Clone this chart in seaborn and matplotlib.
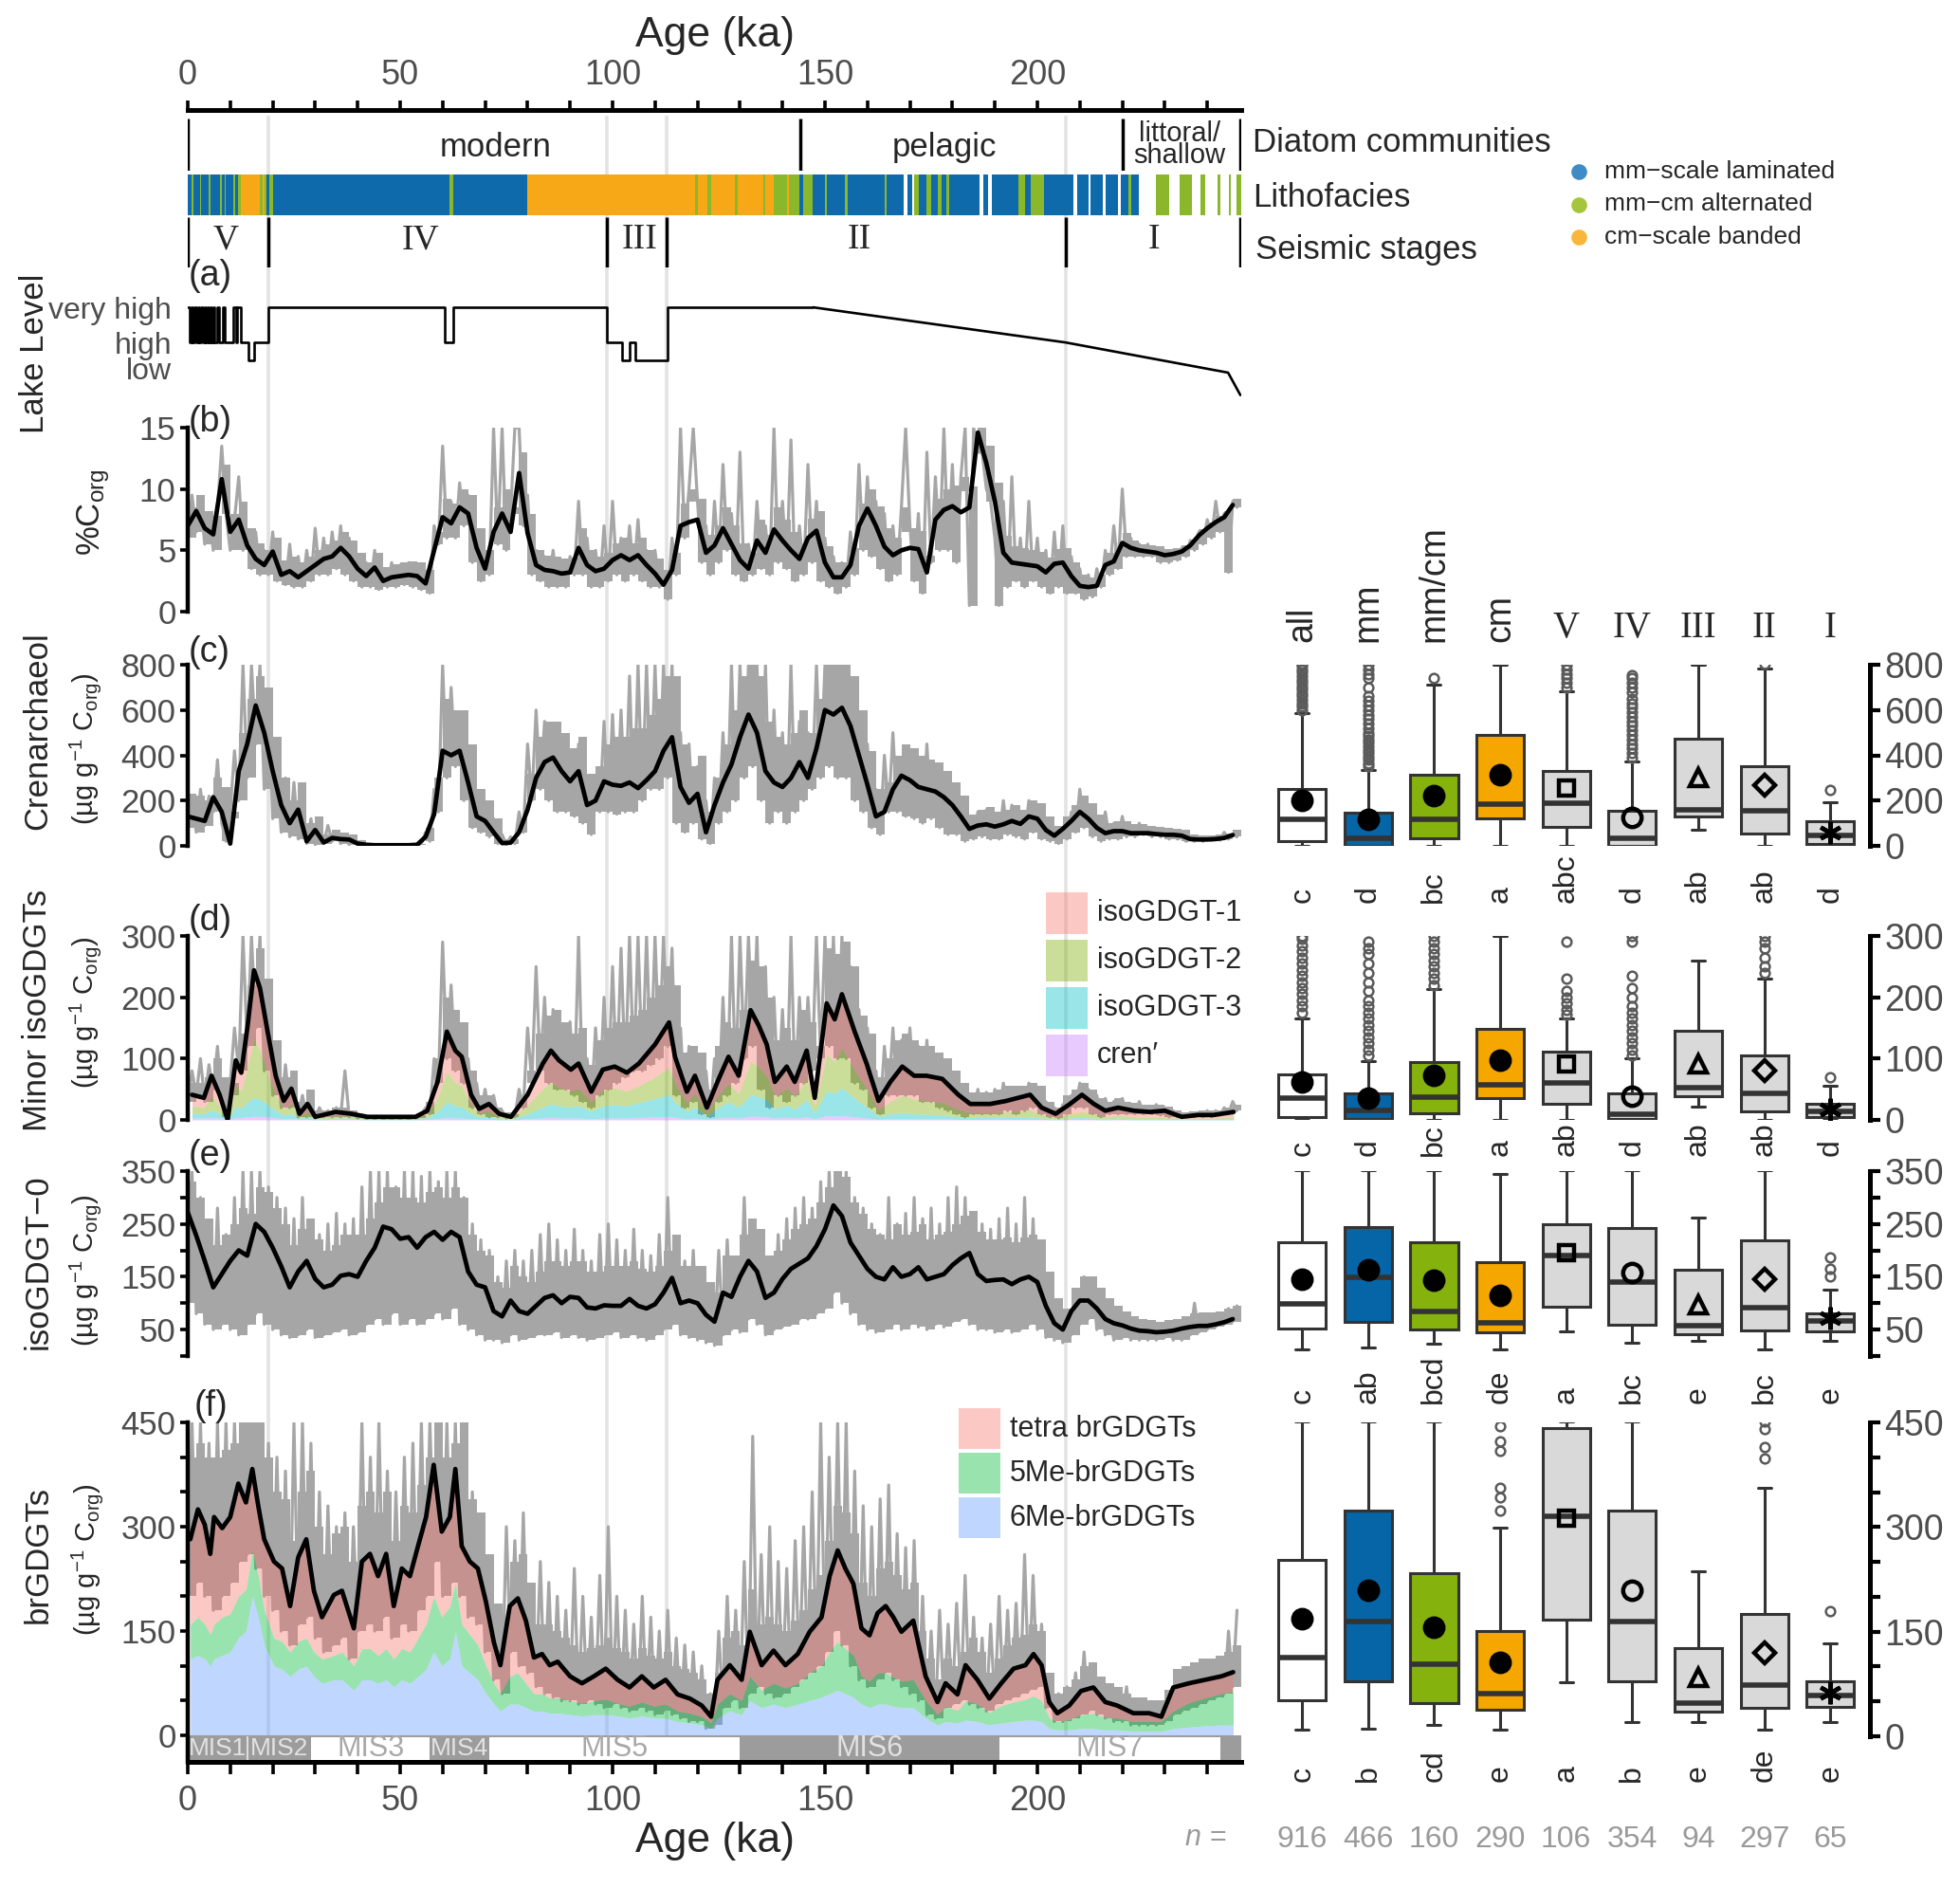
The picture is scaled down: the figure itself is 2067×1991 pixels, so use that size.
import numpy as np
import pandas as pd
import matplotlib
matplotlib.use("Agg")
import matplotlib.pyplot as plt
import matplotlib.transforms as mtransforms
from matplotlib.patches import Rectangle
import seaborn as sns

# ============================ DATA ============================
XMAX = 248.0

# (a) lake level: 1.5 = low, 2 = high, 3 = very high
lake_step_age = [0, 0.4, 0.8, 1.2, 1.6, 2.0, 2.4, 2.7, 3.2, 3.5, 4.0, 4.3, 4.6, 4.9, 5.3, 5.6, 6.0, 6.3,
                 7.0, 7.4, 8.2, 8.6, 10.8, 11.3, 11.6, 12.4, 14.3, 15.6, 18.9, 60.6, 62.6, 98.7, 102.2,
                 104.1, 105.3, 112.9, 147.2]
lake_step_level = [3, 2, 3, 2, 3, 2, 3, 2, 3, 2, 3, 2, 3, 2, 3, 2, 3, 2, 3, 2, 3, 2, 3, 2, 3, 2,
                   1.5, 2, 3, 2, 3, 2, 1.5, 2, 1.5, 3, 3]
lake_ramp_age = [147.2, 206.6, 244.9, 247.8]
lake_ramp_level = [3, 2, 1.14, 0.5]
lake_tick_pos = [3, 2, 1.25]
lake_tick_lab = ["very high", "high", "low"]

# header rows
diatom_bounds = [0, 144.2, 220.0, 247.7]
diatom_labels = ["modern", "pelagic", "littoral/\nshallow"]
diatom_label_x = [72.4, 178.0, 233.5]
seis_bounds = [0, 18.9, 98.7, 112.7, 206.8, 247.7]
seis_labels = ["V", "IV", "III", "II", "I"]
seis_label_x = [9.0, 54.8, 106.3, 158.1, 227.5]

litho_start = [0, 1.0, 1.3, 2.8, 3.2, 5.0, 5.4, 7.6, 8.0, 8.6, 8.9, 10.8, 11.2, 11.8, 12.5, 17.0, 17.6,
               18.0, 18.6, 19.2, 20.2, 61.5, 62.4, 80.0, 119.4, 120.1, 122.4, 123.2, 128.8, 129.4, 135.4,
               136.0, 138.0, 141.0, 141.6, 144.0, 144.8, 147.0, 150.0, 150.5, 154.8, 155.4, 164.0, 164.5,
               169.5, 171.0, 172.0, 174.0, 175.0, 176.5, 177.5, 178.5, 179.3, 187.2, 189.2, 195.5, 197.0,
               198.5, 201.5, 209.3, 212.6, 216.0, 219.6, 221.5, 222.2, 228.0, 233.5, 238.5, 242.5, 245.0,
               246.8]
litho_end = [1.0, 1.3, 2.8, 3.2, 5.0, 5.4, 7.6, 8.0, 8.6, 8.9, 10.8, 11.2, 11.8, 12.5, 17.0, 17.6, 18.0,
             18.6, 19.2, 20.2, 61.5, 62.4, 80.0, 119.4, 120.1, 122.4, 123.2, 128.8, 129.4, 135.4, 136.0,
             138.0, 141.0, 141.6, 144.0, 144.8, 147.0, 150.0, 150.5, 154.8, 155.4, 164.0, 164.5, 168.5,
             170.5, 172.0, 174.0, 175.0, 176.5, 177.5, 178.5, 179.3, 186.5, 188.5, 195.5, 197.0, 198.5,
             201.5, 208.5, 212.0, 215.5, 219.0, 221.5, 222.2, 223.8, 231.0, 236.5, 239.5, 243.2, 245.5,
             248.0]
litho_type = ['mm', 'mc', 'mm', 'mc', 'mm', 'mc', 'mm', 'mc', 'mm', 'mc', 'mm', 'mc', 'mm', 'mc', 'cm',
              'mc', 'cm', 'mc', 'mm', 'mc', 'mm', 'mc', 'mm', 'cm', 'mc', 'cm', 'mc', 'cm', 'mc', 'cm',
              'mc', 'cm', 'mc', 'cm', 'mc', 'mm', 'mc', 'mm', 'mc', 'mm', 'mc', 'mm', 'mc', 'mm', 'mm',
              'mc', 'mm', 'mc', 'mm', 'mc', 'mm', 'mc', 'mm', 'mm', 'mm', 'mc', 'mm', 'mc', 'mm', 'mm',
              'mm', 'mm', 'mm', 'mc', 'mm', 'mc', 'mc', 'mc', 'mc', 'mc', 'mc']
litho_names = ["mm\u2212scale laminated", "mm\u2212cm alternated", "cm\u2212scale banded"]

# MIS bar
mis_start = [0, 14, 29, 57, 71, 130, 191, 243]
mis_end = [14, 29, 57, 71, 130, 191, 243, 248]
mis_label = ["MIS1", "MIS2", "MIS3", "MIS4", "MIS5", "MIS6", "MIS7", ""]
mis_glacial = [True, True, False, True, False, True, False, True]

# 1-ka raw (grey) series, 0..247 ka
gray_age = np.arange(0, 248)
b_gray = [6.0, 9.5, 6.5, 9.0, 5.5, 8.0, 5.0, 8.5, 13.5, 8.0,
          5.0, 7.5, 11.0, 5.0, 6.5, 3.5, 6.5, 3.0, 5.0, 3.0,
          6.5, 2.5, 4.0, 2.2, 5.5, 2.0, 4.5, 2.0, 5.0, 2.5,
          6.8, 3.0, 6.0, 3.0, 6.5, 3.5, 7.0, 3.0, 6.0, 2.5,
          4.5, 2.0, 4.0, 2.0, 5.0, 1.8, 3.5, 2.0, 4.0, 2.0,
          3.8, 2.2, 4.0, 2.0, 3.5, 1.8, 3.0, 1.5, 7.0, 5.5,
          13.5, 6.0, 9.0, 6.0, 10.5, 7.0, 9.5, 4.0, 6.0, 2.5,
          4.5, 3.0, 15.0, 5.5, 15.0, 5.0, 8.0, 15.0, 15.0, 7.0,
          9.5, 3.0, 5.0, 2.5, 4.5, 2.0, 5.0, 2.0, 4.0, 2.0,
          4.5, 3.0, 9.0, 3.0, 6.0, 2.0, 5.0, 2.0, 7.0, 2.5,
          9.0, 3.0, 6.0, 2.5, 7.0, 3.0, 7.5, 2.5, 5.0, 2.0,
          5.0, 2.0, 3.0, 1.0, 6.0, 3.0, 15.0, 6.0, 10.0, 15.0,
          9.0, 4.0, 7.0, 3.0, 9.0, 4.0, 12.0, 5.0, 8.0, 3.0,
          13.0, 2.5, 5.5, 3.0, 9.0, 3.5, 7.0, 3.0, 15.0, 4.0,
          9.0, 3.5, 14.0, 2.5, 7.0, 3.0, 12.0, 4.0, 9.0, 2.5,
          6.0, 2.0, 4.5, 1.5, 4.0, 2.0, 6.5, 3.0, 12.0, 5.0,
          11.0, 4.5, 9.0, 3.5, 8.0, 2.5, 7.0, 3.0, 8.5, 15.0,
          7.0, 2.5, 8.0, 1.5, 13.0, 4.0, 11.0, 5.0, 15.0, 5.0,
          12.0, 4.0, 11.0, 15.0, 0.5, 15.0, 13.0, 13.0, 10.0, 9.0,
          6.0, 0.5, 9.0, 2.0, 11.0, 2.5, 6.0, 2.0, 9.0, 2.5,
          6.0, 2.0, 5.0, 1.5, 6.5, 2.0, 7.0, 1.5, 4.5, 1.5,
          3.5, 1.0, 3.0, 1.2, 3.5, 2.0, 5.0, 3.0, 7.0, 3.5,
          10.0, 4.5, 6.0, 4.5, 5.5, 4.5, 5.5, 4.5, 5.0, 4.0,
          5.0, 4.0, 5.0, 4.2, 5.2, 4.5, 5.8, 5.0, 6.5, 5.5,
          7.5, 6.0, 9.0, 6.5, 8.0, 3.2, 9.0, 8.5]
c_gray = [80, 200, 60, 250, 90, 220, 150, 380, 100, 20,
          150, 420, 200, 800, 300, 800, 450, 800, 250, 650,
          120, 350, 60, 300, 40, 280, 30, 150, 10, 120,
          5, 80, 10, 90, 20, 60, 10, 40, 5, 30,
          5, 20, 5, 0, 5, 0, 3, 0, 3, 0,
          2, 0, 2, 0, 5, 10, 60, 20, 250, 150,
          800, 300, 700, 350, 550, 200, 350, 80, 200, 60,
          180, 40, 120, 10, 50, 5, 40, 10, 150, 60,
          450, 200, 600, 250, 550, 200, 480, 150, 420, 150,
          380, 130, 450, 100, 200, 50, 300, 150, 550, 150,
          580, 140, 600, 150, 750, 150, 800, 200, 800, 250,
          800, 250, 800, 300, 800, 100, 500, 60, 450, 100,
          350, 30, 200, 10, 300, 100, 500, 150, 800, 200,
          800, 300, 800, 350, 800, 200, 800, 100, 600, 150,
          500, 100, 800, 150, 550, 200, 500, 250, 800, 300,
          800, 350, 800, 300, 800, 300, 700, 200, 500, 150,
          450, 80, 250, 50, 400, 150, 500, 150, 380, 130,
          420, 120, 350, 100, 450, 120, 300, 80, 250, 50,
          200, 50, 180, 20, 120, 30, 150, 40, 160, 30,
          120, 30, 200, 50, 180, 40, 150, 30, 200, 60,
          130, 30, 100, 20, 60, 10, 80, 30, 150, 60,
          250, 80, 180, 40, 120, 20, 150, 30, 100, 30,
          130, 40, 80, 40, 100, 50, 70, 40, 70, 40,
          60, 30, 50, 30, 40, 20, 30, 20, 35, 20,
          35, 25, 40, 25, 60, 30, 50, 40]
d_gray = [30, 80, 40, 100, 30, 90, 50, 120, 30, 5,
          60, 150, 80, 300, 120, 300, 150, 300, 80, 200,
          40, 120, 20, 90, 20, 60, 5, 40, 5, 30,
          3, 20, 5, 15, 5, 20, 5, 80, 5, 10,
          3, 8, 2, 5, 2, 5, 2, 4, 2, 4,
          2, 4, 2, 4, 3, 8, 20, 10, 100, 60,
          290, 100, 220, 80, 150, 60, 100, 20, 60, 10,
          50, 5, 40, 5, 15, 3, 10, 5, 50, 20,
          150, 60, 250, 80, 200, 60, 180, 50, 150, 50,
          160, 40, 300, 30, 100, 20, 150, 40, 200, 50,
          250, 60, 280, 70, 300, 80, 300, 80, 300, 90,
          300, 100, 300, 120, 280, 40, 150, 20, 120, 30,
          100, 10, 80, 5, 100, 30, 200, 40, 300, 60,
          300, 100, 300, 120, 300, 50, 250, 20, 200, 40,
          180, 30, 300, 40, 200, 60, 200, 80, 300, 100,
          300, 120, 300, 100, 300, 100, 250, 60, 180, 50,
          150, 20, 80, 10, 120, 40, 150, 40, 130, 40,
          150, 40, 120, 30, 130, 30, 100, 20, 80, 15,
          60, 10, 50, 5, 40, 10, 50, 10, 45, 10,
          50, 10, 60, 15, 50, 10, 45, 15, 60, 20,
          40, 10, 30, 5, 20, 3, 25, 10, 40, 20,
          60, 20, 50, 10, 40, 5, 35, 10, 30, 10,
          35, 10, 25, 10, 30, 10, 20, 10, 25, 8,
          20, 5, 15, 5, 10, 5, 12, 5, 12, 5,
          15, 5, 15, 8, 20, 10, 30, 15]
e_gray = [100, 350, 80, 300, 60, 250, 50, 280, 60, 230,
          50, 300, 40, 350, 60, 350, 80, 350, 60, 320,
          50, 300, 40, 280, 35, 260, 40, 300, 50, 250,
          35, 230, 40, 250, 45, 270, 50, 250, 40, 260,
          45, 320, 60, 350, 70, 350, 60, 350, 80, 320,
          60, 350, 70, 350, 60, 340, 70, 350, 80, 330,
          70, 350, 90, 350, 60, 300, 50, 250, 40, 220,
          30, 200, 30, 150, 25, 180, 40, 200, 30, 180,
          35, 200, 40, 230, 40, 250, 45, 220, 35, 200,
          40, 240, 35, 200, 30, 180, 35, 230, 40, 250,
          45, 220, 35, 200, 40, 240, 35, 200, 30, 190,
          40, 230, 50, 300, 60, 200, 40, 180, 35, 200,
          30, 160, 25, 130, 20, 200, 40, 220, 50, 180,
          45, 300, 70, 250, 60, 200, 40, 180, 50, 230,
          55, 260, 60, 280, 70, 300, 70, 280, 80, 330,
          90, 350, 120, 350, 100, 350, 80, 300, 60, 280,
          50, 250, 45, 230, 50, 300, 60, 250, 50, 270,
          60, 300, 55, 260, 50, 280, 60, 250, 55, 300,
          65, 320, 70, 300, 60, 260, 50, 250, 50, 240,
          45, 260, 50, 280, 45, 250, 50, 300, 60, 260,
          50, 180, 35, 120, 30, 90, 25, 80, 40, 120,
          60, 150, 70, 140, 50, 110, 40, 80, 30, 70,
          35, 65, 30, 60, 30, 55, 30, 50, 30, 50,
          35, 55, 30, 60, 30, 70, 40, 100, 45, 80,
          50, 75, 55, 80, 60, 90, 65, 95]
f_gray = [200, 450, 220, 450, 200, 420, 180, 450, 200, 450,
          220, 450, 250, 450, 260, 450, 240, 450, 200, 420,
          180, 400, 150, 380, 130, 450, 160, 450, 170, 420,
          140, 350, 120, 330, 130, 300, 140, 320, 110, 300,
          150, 450, 160, 400, 150, 450, 170, 380, 140, 350,
          160, 400, 150, 420, 180, 450, 200, 450, 250, 450,
          200, 450, 220, 450, 200, 450, 170, 350, 160, 300,
          120, 250, 80, 180, 60, 300, 120, 280, 100, 320,
          90, 200, 70, 250, 60, 220, 55, 200, 50, 180,
          50, 240, 45, 200, 50, 170, 45, 230, 40, 300,
          45, 200, 40, 180, 35, 160, 40, 200, 35, 170,
          30, 150, 35, 180, 30, 140, 25, 130, 20, 120,
          20, 100, 10, 60, 15, 150, 40, 200, 50, 180,
          40, 250, 60, 430, 70, 260, 60, 300, 55, 250,
          60, 240, 70, 280, 80, 300, 90, 350, 100, 450,
          120, 400, 150, 450, 130, 450, 100, 380, 80, 330,
          70, 300, 80, 340, 90, 360, 80, 290, 70, 270,
          60, 280, 50, 200, 30, 150, 25, 180, 40, 160,
          45, 190, 50, 230, 45, 170, 40, 140, 35, 160,
          45, 200, 50, 180, 55, 190, 60, 260, 65, 230,
          70, 160, 40, 80, 20, 60, 20, 70, 25, 90,
          30, 120, 35, 100, 30, 80, 25, 70, 20, 60,
          20, 70, 15, 50, 15, 45, 15, 40, 15, 40,
          20, 60, 30, 80, 35, 90, 40, 90, 45, 100,
          50, 90, 55, 100, 60, 150, 70, 180]

# smoothed (black) series and upper edge of the dense raw-data cloud, 2-ka steps 0..246 ka
smooth_age = np.arange(0, 247, 2)
b_black = [7.0, 8.2, 6.8, 6.3, 10.8, 6.5, 7.5, 5.4, 4.3, 3.8,
           4.9, 3.0, 3.3, 2.8, 3.3, 3.8, 4.3, 4.5, 5.2, 4.5,
           3.5, 2.9, 3.6, 2.5, 2.8, 2.9, 3.0, 2.9, 2.3, 5.0,
           7.7, 7.2, 8.5, 8.0, 5.2, 3.5, 6.5, 8.0, 6.5, 11.3,
           6.4, 3.8, 3.4, 3.3, 3.1, 3.2, 5.2, 3.8, 3.3, 3.5,
           4.2, 4.6, 4.2, 4.6, 3.8, 3.1, 2.2, 3.4, 7.0, 7.3,
           7.5, 4.8, 5.4, 6.8, 5.5, 4.2, 3.5, 5.8, 4.8, 6.7,
           5.8, 5.0, 4.3, 6.0, 6.6, 4.0, 2.8, 2.8, 3.8, 7.0,
           8.4, 7.0, 5.3, 4.6, 5.0, 5.2, 5.1, 3.2, 7.5, 8.3,
           8.6, 8.1, 8.5, 14.6, 12.1, 9.0, 4.8, 4.0, 3.9, 3.8,
           3.7, 3.2, 3.9, 4.0, 2.9, 2.1, 2.0, 2.1, 3.8, 4.1,
           5.6, 5.2, 5.0, 4.9, 4.8, 4.6, 4.7, 4.9, 5.4, 6.2,
           6.8, 7.3, 7.7, 8.7]
b_core = [8.5, 9.5, 8.2, 7.8, 12.0, 8.0, 9.0, 6.8, 5.6, 5.0,
          6.0, 4.2, 4.5, 4.0, 4.5, 5.0, 5.5, 5.8, 6.5, 5.8,
          4.8, 4.0, 4.8, 3.6, 3.9, 4.0, 4.1, 4.0, 3.4, 6.5,
          9.2, 8.8, 10.0, 9.5, 6.8, 5.0, 8.5, 10.0, 8.5, 13.0,
          8.0, 5.0, 4.6, 4.5, 4.3, 4.4, 6.8, 5.0, 4.5, 4.8,
          5.6, 6.0, 5.6, 6.0, 5.0, 4.3, 3.4, 4.8, 8.8, 9.0,
          9.2, 6.3, 7.0, 8.5, 7.0, 5.6, 4.8, 7.5, 6.3, 8.5,
          7.5, 6.5, 5.6, 7.6, 8.2, 5.3, 4.0, 4.0, 5.2, 8.8,
          10.0, 8.6, 6.8, 6.0, 6.5, 6.8, 6.6, 4.6, 9.2, 10.0,
          10.3, 9.8, 10.2, 15.0, 13.5, 10.5, 6.2, 5.3, 5.2, 5.0,
          4.9, 4.4, 5.1, 5.2, 4.0, 3.0, 2.8, 3.0, 4.8, 5.2,
          6.4, 5.8, 5.5, 5.4, 5.3, 5.1, 5.2, 5.4, 5.9, 6.7,
          7.3, 7.8, 8.2, 9.2]
c_black = [130, 120, 110, 215, 150, 10, 330, 450, 620, 500,
           330, 180, 100, 160, 20, 70, 15, 35, 30, 28,
           10, 5, 3, 3, 3, 3, 3, 5, 40, 140,
           420, 400, 420, 280, 130, 110, 60, 12, 14, 60,
           160, 300, 370, 390, 330, 285, 330, 180, 200, 285,
           270, 265, 280, 255, 290, 330, 420, 480, 260, 190,
           230, 60, 180, 280, 360, 480, 580, 500, 330, 280,
           260, 300, 370, 300, 430, 600, 580, 610, 530, 400,
           270, 130, 150, 250, 310, 290, 260, 250, 240, 215,
           180, 130, 75, 90, 95, 85, 95, 110, 97, 130,
           120, 70, 45, 75, 110, 150, 120, 80, 56, 65,
           65, 56, 56, 56, 52, 49, 49, 45, 30, 28,
           28, 30, 35, 48]
c_core = [230, 220, 200, 300, 260, 120, 500, 650, 750, 700,
          480, 300, 200, 280, 100, 130, 50, 70, 60, 50,
          25, 10, 6, 6, 6, 6, 6, 10, 80, 300,
          650, 600, 600, 450, 250, 200, 120, 30, 30, 120,
          320, 480, 550, 550, 500, 430, 480, 320, 350, 450,
          480, 480, 520, 520, 580, 650, 750, 750, 450, 350,
          400, 150, 300, 450, 600, 750, 800, 750, 550, 480,
          450, 500, 600, 500, 650, 800, 800, 800, 750, 600,
          420, 250, 280, 400, 450, 430, 400, 380, 370, 330,
          280, 220, 140, 160, 170, 150, 160, 180, 160, 200,
          190, 130, 90, 130, 180, 220, 190, 140, 100, 110,
          110, 95, 95, 90, 85, 80, 75, 70, 50, 45,
          45, 50, 55, 70]
d_core = [60, 60, 70, 100, 70, 40, 140, 220, 280, 230,
          130, 70, 80, 30, 50, 15, 15, 20, 20, 15,
          8, 6, 6, 6, 6, 6, 6, 8, 30, 100,
          200, 180, 160, 80, 40, 40, 20, 12, 10, 40,
          80, 140, 170, 180, 160, 140, 150, 90, 130, 150,
          160, 160, 170, 180, 200, 220, 250, 220, 110, 120,
          110, 50, 120, 160, 150, 180, 260, 250, 200, 130,
          150, 130, 180, 160, 120, 280, 270, 290, 250, 170,
          140, 70, 100, 130, 140, 130, 120, 120, 110, 100,
          80, 60, 45, 45, 45, 50, 55, 55, 55, 60,
          55, 30, 20, 40, 50, 60, 50, 35, 30, 35,
          30, 28, 25, 25, 25, 22, 15, 12, 14, 15,
          15, 16, 20, 25]
e_black = [272, 228, 180, 130, 155, 180, 200, 190, 250, 235,
           205, 170, 130, 160, 180, 146, 130, 135, 152, 155,
           150, 180, 205, 245, 240, 222, 225, 205, 225, 235,
           220, 235, 225, 160, 135, 130, 85, 75, 105, 85,
           80, 95, 110, 115, 100, 112, 110, 92, 90, 96,
           95, 95, 108, 95, 90, 98, 120, 148, 100, 105,
           100, 78, 65, 120, 112, 150, 180, 160, 110, 120,
           146, 165, 175, 185, 208, 240, 285, 265, 215, 190,
           165, 150, 145, 168, 150, 155, 168, 145, 150, 155,
           172, 185, 195, 155, 142, 144, 145, 136, 145, 150,
           140, 95, 62, 50, 85, 105, 105, 90, 70, 62,
           58, 52, 48, 47, 45, 46, 48, 52, 55, 57,
           57, 60, 64, 70]
e_core = [330, 300, 260, 210, 230, 250, 280, 270, 320, 310,
          280, 250, 210, 240, 260, 220, 200, 210, 230, 230,
          230, 260, 290, 320, 320, 300, 300, 290, 310, 320,
          300, 320, 300, 230, 200, 190, 140, 130, 170, 150,
          140, 160, 180, 180, 170, 180, 180, 160, 160, 170,
          170, 170, 180, 165, 160, 170, 200, 230, 170, 170,
          170, 140, 120, 190, 190, 230, 260, 240, 190, 200,
          220, 240, 250, 260, 290, 320, 350, 340, 290, 270,
          240, 230, 220, 250, 230, 235, 250, 220, 230, 235,
          250, 265, 275, 235, 220, 220, 225, 215, 225, 230,
          220, 160, 110, 90, 130, 150, 150, 130, 110, 95,
          85, 75, 70, 68, 65, 68, 70, 75, 80, 82,
          82, 85, 90, 95]
f_core = [400, 420, 400, 400, 410, 420, 450, 450, 450, 400,
          350, 340, 280, 350, 380, 300, 260, 290, 300, 250,
          330, 350, 320, 350, 280, 330, 320, 360, 400, 450,
          400, 420, 450, 340, 320, 260, 190, 150, 250, 260,
          220, 160, 160, 150, 140, 130, 120, 125, 130, 140,
          125, 120, 110, 125, 115, 110, 120, 100, 95, 90,
          80, 60, 90, 140, 150, 130, 210, 160, 170, 160,
          150, 165, 180, 210, 230, 280, 330, 320, 290, 220,
          200, 240, 250, 230, 210, 220, 150, 110, 80, 110,
          100, 120, 140, 120, 90, 110, 130, 140, 145, 160,
          150, 90, 60, 70, 80, 100, 105, 85, 75, 70,
          60, 55, 55, 50, 50, 65, 95, 100, 105, 110,
          110, 115, 120, 130]

# (d) minor isoGDGT components (smoothed, stacked)
d_age = [1, 3.8, 5.6, 7.5, 9.4, 11.3, 12.6, 14.1, 15.6, 17,
         18.8, 20.7, 22.6, 24.4, 26.3, 28.2, 30, 34.8, 38.5, 42.3,
         53.6, 56.4, 58.8, 61, 63, 64.5, 66.7, 68.6, 70.9, 73.3,
         76.1, 80, 83.6, 85.5, 87.4, 90.2, 92, 95, 97.7, 100.5,
         103.4, 106.2, 110, 113.3, 114.7, 117.5, 119.4, 122.2, 125, 127.3,
         129.7, 132.5, 134.4, 136.3, 138.2, 141, 142.9, 145.7, 147.6, 150.4,
         152.3, 154, 157, 159.8, 162.6, 165.4, 168.2, 171, 173.9, 177.6,
         181.4, 184.2, 188.9, 192.7, 195.5, 198.3, 201, 204.3, 207.7, 210.5,
         213.3, 216, 219, 222.7, 226.5, 230, 234, 237.8, 241.5, 246.2]
d_cren = [3, 3, 4, 3, 0, 4, 4, 5, 6, 6, 5, 3, 2, 2, 1, 1, 0, 1, 1, 0,
          0, 1, 2, 4, 3, 3, 2, 1, 1, 0, 0, 2, 3, 4, 3, 3, 3, 2, 3, 3,
          3, 4, 5, 6, 4, 2, 3, 1, 3, 4, 3, 6, 6, 5, 3, 4, 3, 5, 2, 7,
          6, 7, 5, 3, 1, 2, 2, 2, 2, 2, 1, 1, 1, 1, 1, 1, 1, 0, 1, 1,
          1, 0, 1, 0, 0, 0, 0, 0, 0, 0]
d_iso3 = [8, 7, 12, 8, 0, 18, 15, 25, 30, 28, 20, 12, 6, 8, 2, 4, 1, 2, 2, 1,
          1, 3, 12, 25, 20, 18, 8, 4, 5, 2, 1, 8, 18, 22, 20, 18, 20, 12, 20, 22,
          20, 24, 30, 35, 25, 12, 18, 5, 18, 25, 18, 35, 32, 28, 15, 20, 15, 28, 9, 40,
          38, 45, 30, 18, 5, 8, 10, 8, 7, 6, 4, 3, 3, 3, 3, 4, 2, 1, 2, 3,
          2, 1, 2, 1, 1, 1, 1, 1, 1, 1]
d_iso2 = [12, 10, 22, 12, 0, 35, 28, 60, 95, 80, 50, 25, 10, 16, 3, 8, 2, 4, 3, 2,
          2, 5, 22, 50, 38, 35, 14, 6, 9, 3, 2, 14, 30, 35, 30, 26, 28, 15, 26, 27,
          24, 28, 35, 45, 30, 14, 22, 6, 20, 30, 22, 55, 48, 38, 20, 28, 20, 35, 12, 60,
          52, 65, 45, 30, 10, 20, 28, 24, 22, 20, 12, 8, 8, 9, 10, 12, 6, 3, 7, 10,
          7, 4, 5, 4, 4, 4, 1, 2, 2, 4]
d_iso1 = [18, 16, 34, 18, 0, 40, 30, 64, 113, 101, 69, 32, 13, 25, 4, 13, 2, 6, 4, 2,
          2, 6, 26, 65, 52, 47, 17, 7, 11, 5, 2, 17, 41, 52, 44, 35, 41, 17, 33, 35,
          30, 36, 53, 73, 44, 18, 29, 8, 26, 44, 29, 83, 68, 52, 24, 35, 24, 45, 13, 83,
          68, 88, 64, 41, 15, 32, 47, 38, 41, 39, 24, 14, 14, 18, 22, 24, 11, 6, 16, 27,
          16, 10, 12, 10, 8, 10, 3, 5, 5, 8]
d_names = ["isoGDGT-1", "isoGDGT-2", "isoGDGT-3", "cren\u2032"]

# (f) brGDGT components (smoothed, stacked)
f_age = [0.6, 2.4, 4, 5.3, 6.2, 8.1, 10, 11.9, 13.7, 15.2,
         16.6, 18, 20.3, 22.2, 24.1, 26, 27.9, 29.7, 31.6, 34.4,
         36.3, 39.1, 41, 42.9, 44.8, 46.7, 48.5, 50.4, 52.3, 54.2,
         56.1, 57.9, 59.8, 61.7, 63, 64.5, 66.4, 68.3, 70.2, 72.1,
         73.6, 75.8, 77.7, 79.6, 81.5, 83.4, 85.2, 87.1, 90, 92.8,
         95.6, 98.4, 101.2, 104, 106.9, 109.7, 112.5, 115.3, 118.2, 121,
         123.2, 124.7, 127.6, 130.4, 132.3, 135.1, 137.9, 140.7, 143.6, 146.4,
         149.2, 151.1, 153, 154.8, 156.7, 158.6, 160.5, 162.4, 164.3, 166.1,
         168, 170.8, 173.7, 176.5, 178.4, 181.2, 183.1, 185.9, 188.7, 191.5,
         194.4, 197.2, 199.1, 201, 202.8, 204.7, 207.5, 210.3, 213.2, 216,
         218.8, 222.6, 226.3, 229.2, 232, 235.7, 239.5, 243.3, 246.1]
f_6me = [110, 115, 110, 100, 110, 115, 120, 140, 150, 200, 170, 130, 100, 95, 85, 95, 100, 85, 75, 80,
         80, 65, 80, 80, 75, 80, 70, 80, 75, 85, 95, 120, 100, 110, 150, 100, 90, 80, 60, 45,
         35, 45, 45, 40, 35, 35, 32, 32, 30, 28, 30, 30, 28, 25, 28, 25, 25, 20, 18, 15,
         10, 25, 35, 30, 50, 40, 45, 40, 45, 50, 55, 60, 65, 60, 55, 45, 40, 45, 45, 42,
         40, 40, 25, 15, 20, 18, 22, 20, 15, 18, 20, 22, 22, 20, 10, 8, 8, 10, 10, 8,
         8, 6, 6, 6, 10, 12, 14, 15, 15]
f_5me = [50, 55, 50, 45, 50, 55, 55, 60, 60, 66, 60, 50, 40, 40, 35, 40, 40, 35, 35, 35,
         40, 35, 45, 45, 40, 45, 40, 45, 45, 55, 65, 80, 70, 75, 70, 60, 55, 50, 40, 30,
         25, 40, 45, 35, 25, 25, 22, 22, 20, 18, 20, 22, 18, 17, 20, 17, 20, 15, 14, 12,
         8, 20, 25, 20, 35, 25, 30, 28, 30, 40, 45, 60, 70, 65, 60, 40, 38, 45, 45, 42,
         38, 40, 25, 15, 22, 18, 28, 25, 18, 25, 28, 30, 35, 30, 15, 12, 15, 20, 22, 18,
         17, 14, 14, 14, 25, 35, 40, 45, 48]
f_tetra = [122, 155, 143, 116, 154, 128, 139, 162, 125, 117, 100, 102, 110, 105, 66, 121, 142, 88, 60, 87,
           88, 54, 125, 136, 114, 136, 76, 115, 109, 132, 154, 189, 123, 129, 163, 112, 105, 110, 92, 58,
           41, 101, 107, 90, 52, 57, 47, 52, 35, 29, 35, 44, 34, 27, 37, 27, 35, 24, 21, 16,
           9, 35, 41, 30, 64, 36, 47, 33, 42, 59, 70, 109, 131, 115, 103, 69, 66, 86, 96, 86,
           71, 85, 35, 18, 33, 23, 51, 35, 20, 32, 48, 49, 60, 51, 23, 12, 20, 34, 37, 22,
           18, 12, 12, 7, 34, 28, 26, 25, 28]
f_names = ["tetra brGDGTs", "5Me-brGDGTs", "6Me-brGDGTs"]

# box-plot statistics (groups: all, mm, mm/cm, cm, V, IV, III, II, I)
groups = ["all", "mm", "mm/cm", "cm", "V", "IV", "III", "II", "I"]
group_n = [916, 466, 160, 290, 106, 354, 94, 297, 65]

c_med = [117, 35, 117, 185, 188, 32, 161, 156, 46]
c_q1 = [19, 0, 35, 121, 85, 0, 129, 55, 8]
c_q3 = [251, 145, 314, 492, 331, 155, 473, 350, 109]
c_lo = [0, 0, 0, 0, 0, 0, 71, 0, 0]
c_hi = [587, 337, 713, 800, 681, 374, 800, 784, 192]
c_mean = [200, 117, 224, 314, 255, 126, 300, 268, 58]
c_out = [[600, 615, 630, 645, 660, 675, 690, 705, 720, 735, 750, 765, 780, 795, 805],
         [350, 365, 380, 395, 410, 425, 440, 455, 470, 485, 500, 520, 540, 560, 580, 600, 620, 640, 660,
          700, 740, 760, 780, 800],
         [740], [], [700, 720, 740, 760, 780, 800],
         [390, 410, 430, 450, 470, 490, 510, 530, 550, 570, 590, 610, 630, 650, 680, 700, 720, 740, 755],
         [], [805], [248]]
c_sig = ["c", "d", "bc", "a", "abc", "d", "ab", "ab", "d"]

d_med = [35, 15, 37, 57, 60, 10, 53, 43, 14]
d_q1 = [5, 2, 11, 36, 26, 1, 39, 14, 4]
d_q3 = [74, 44, 94, 148, 111, 43, 146, 105, 26]
d_lo = [0, 0, 0, 0, 0, 0, 21, 0, 0]
d_hi = [166, 96, 214, 300, 166, 100, 260, 230, 56]
d_mean = [62, 35, 72, 98, 92, 38, 92, 80, 17]
d_out = [[175, 185, 195, 205, 215, 225, 235, 245, 255, 265, 275, 285, 295, 300],
         [105, 115, 125, 135, 145, 155, 165, 175, 185, 195, 210, 225, 240, 255, 270, 280, 290],
         [220, 230, 240, 250, 260, 270, 280, 290, 300], [],
         [172, 180, 190, 200, 210, 230, 290],
         [105, 115, 125, 135, 145, 155, 165, 175, 185, 200, 215, 235, 290, 300],
         [], [240, 250, 265, 280, 290, 300], [69]]
d_sig = ["c", "d", "bc", "a", "ab", "d", "ab", "ab", "d"]

e_med = [98, 149, 84, 63, 190, 140, 57, 91, 66]
e_q1 = [52, 64, 51, 44, 93, 60, 42, 48, 47]
e_q3 = [215, 244, 216, 178, 249, 242, 164, 219, 81]
e_lo = [12, 17, 24, 12, 47, 26, 28, 12, 28]
e_hi = [352, 352, 352, 344, 352, 352, 262, 352, 126]
e_mean = [146, 164, 143, 114, 196, 158, 97, 145, 71]
e_out = [[], [], [], [], [], [], [], [], [151, 166, 186]]
e_sig = ["c", "ab", "bcd", "de", "a", "bc", "e", "bc", "e"]

f_med = [113, 165, 103, 61, 315, 165, 48, 73, 59]
f_q1 = [52, 79, 48, 38, 167, 79, 35, 41, 42]
f_q3 = [253, 324, 234, 151, 442, 324, 127, 176, 79]
f_lo = [9, 11, 16, 9, 78, 20, 20, 9, 21]
f_hi = [452, 452, 452, 299, 452, 452, 236, 356, 133]
f_mean = [168, 209, 157, 106, 313, 209, 84, 119, 62]
f_out = [[], [], [], [324, 342, 356, 409, 423, 444], [], [], [], [398, 415, 441, 452], [179]]
f_sig = ["c", "b", "cd", "e", "a", "b", "e", "de", "e"]

# ============================ STYLE ============================
W, H = 2067, 1991
sns.set_theme(style="white")
SANS = ["Liberation Sans", "DejaVu Sans"]
SERIF = ["Liberation Serif", "DejaVu Serif"]
plt.rcParams["font.family"] = SANS
plt.rcParams["mathtext.fontset"] = "custom"
plt.rcParams["mathtext.rm"] = "Liberation Sans"
plt.rcParams["mathtext.it"] = "Liberation Sans:italic"
plt.rcParams["mathtext.bf"] = "Liberation Sans:bold"
plt.rcParams["axes.unicode_minus"] = False

TXT = "#4d4d4d"
GRAY = "#a6a6a6"
GUIDE = "#e3e3e3"
LITHO_COL = {"mm": "#0f6aac", "mc": "#8bb82a", "cm": "#f6a816"}
LEG_COL = ["#3f8bc6", "#a5c63c", "#f8b63a"]
D_COL = ["#F8766D", "#7CAE00", "#00BFC4", "#C77CFF"]   # iso1, iso2, iso3, cren'
F_COL = ["#F8766D", "#00BA38", "#619CFF"]              # tetra, 5Me, 6Me
BOX_COL = ["#ffffff", "#0565a6", "#86b20d", "#f5a700"] + ["#d9d9d9"] * 5
ALPHA = 0.4

fig = plt.figure(figsize=(W / 100, H / 100), dpi=100)
fig.patch.set_facecolor("white")


def rect(x0, y0, x1, y1):
    return [x0 / W, 1 - y1 / H, (x1 - x0) / W, (y1 - y0) / H]


LX0, LX1 = 198, 1309

# background guide lines (seismic stage boundaries)
bg = fig.add_axes(rect(LX0, 122, LX1, 1830))
bg.set_xlim(0, XMAX)
bg.set_ylim(0, 1)
bg.axis("off")
bg.vlines(seis_bounds[1:-1], 0, 1, colors=GUIDE, lw=2.6)

# ---- top age axis
axt = fig.add_axes(rect(LX0, 116, LX1, 121))
axt.set_xlim(0, XMAX)
axt.set_ylim(0, 1)
axt.patch.set_visible(False)
for s in ("left", "right", "bottom"):
    axt.spines[s].set_visible(False)
axt.spines["top"].set_visible(True)
axt.spines["top"].set_linewidth(3.6)
axt.spines["top"].set_color("black")
axt.set_yticks([])
axt.set_xticks([0, 50, 100, 150, 200])
axt.set_xticks(np.arange(0, 241, 10), minor=True)
axt.xaxis.set_ticks_position("top")
axt.tick_params(axis="x", which="both", top=True, bottom=False, labeltop=True, labelbottom=False,
                length=7, width=2.6, color="black", labelsize=26, labelcolor=TXT, pad=7, direction="out")

# ---- diatom communities row
adia = fig.add_axes(rect(LX0, 125, LX1, 180))
adia.set_xlim(0, XMAX)
adia.set_ylim(0, 1)
adia.axis("off")
adia.vlines(diatom_bounds, 0, 1, colors="black", lw=2.5)
for lab, x in zip(diatom_labels, diatom_label_x):
    if "\n" in lab:
        adia.text(x, 0.5, lab, ha="center", va="center", fontsize=21, linespacing=0.78)
    else:
        adia.text(x, 0.45, lab, ha="center", va="center", fontsize=25)

# ---- lithofacies bar
alit = fig.add_axes(rect(LX0, 184, LX1, 227))
alit.set_xlim(0, XMAX)
alit.set_ylim(0, 1)
alit.axis("off")
for code, col in LITHO_COL.items():
    segs = [(s, e - s) for s, e, t in zip(litho_start, litho_end, litho_type) if t == code]
    alit.broken_barh(segs, (0, 1), facecolors=col, edgecolor="none")

# ---- seismic stages row
aseis = fig.add_axes(rect(LX0, 229, LX1, 282))
aseis.set_xlim(0, XMAX)
aseis.set_ylim(0, 1)
aseis.axis("off")
aseis.vlines(seis_bounds, 0, 1, colors="black", lw=2.5)
for lab, x in zip(seis_labels, seis_label_x):
    aseis.text(x, 0.55, lab, ha="center", va="center", fontsize=27, family=SERIF)

# ---- (a) lake level
alake = fig.add_axes(rect(LX0, 300, LX1, 420))
alake.set_xlim(0, XMAX)
alake.set_ylim(0.41, 3.65)
alake.patch.set_visible(False)
for s in alake.spines.values():
    s.set_visible(False)
sns.lineplot(x=lake_step_age, y=lake_step_level, ax=alake, color="black", lw=1.9,
             drawstyle="steps-post", legend=False, estimator=None)
sns.lineplot(x=lake_ramp_age, y=lake_ramp_level, ax=alake, color="black", lw=1.9,
             legend=False, estimator=None)
alake.set_yticks(lake_tick_pos)
alake.set_yticklabels(lake_tick_lab)
alake.tick_params(axis="y", left=False, labelsize=23, labelcolor=TXT, pad=6)
alake.tick_params(axis="x", bottom=False, labelbottom=False)
alake.set_xlabel("")
alake.set_ylabel("")


def left_panel(y0, y1, ylim, ticks, labels):
    ax = fig.add_axes(rect(LX0, y0, LX1, y1))
    ax.set_xlim(0, XMAX)
    ax.set_ylim(*ylim)
    ax.patch.set_visible(False)
    for s in ("top", "right", "bottom"):
        ax.spines[s].set_visible(False)
    ax.spines["left"].set_visible(True)
    ax.spines["left"].set_linewidth(3.2)
    ax.spines["left"].set_color("black")
    ax.set_yticks(ticks)
    ax.set_yticklabels(labels)
    ax.tick_params(axis="y", left=True, length=6, width=2.6, color="black", labelsize=25,
                   labelcolor=TXT, pad=3, direction="out")
    ax.tick_params(axis="x", bottom=False, labelbottom=False)
    return ax


bin_edges = np.append(smooth_age, XMAX)


def gray_layer(ax, gy, core):
    """Raw data: dense cloud (min of raw values per 2-ka bin up to cloud top) + raw line."""
    g = np.asarray(gy, dtype=float)
    lo = np.minimum(g[0::2], g[1::2])
    top = np.asarray(core, dtype=float)
    ax.fill_between(bin_edges, np.append(lo, lo[-1]), np.append(top, top[-1]), step="post",
                    color=GRAY, lw=0, zorder=1)
    sns.lineplot(x=gray_age, y=gy, ax=ax, color=GRAY, lw=2.3, legend=False, estimator=None, zorder=1)


def black_line(ax, x, y):
    sns.lineplot(x=x, y=y, ax=ax, color="black", lw=3.4, legend=False, estimator=None, zorder=3)
    ax.set_xlabel("")
    ax.set_ylabel("")


# (b)
pb = left_panel(451, 645, (0, 15), [0, 5, 10, 15], ["0", "5", "10", "15"])
gray_layer(pb, b_gray, b_core)
black_line(pb, smooth_age, b_black)

# (c)
pc = left_panel(701, 892, (0, 800), [0, 200, 400, 600, 800], ["0", "200", "400", "600", "800"])
gray_layer(pc, c_gray, c_core)
black_line(pc, smooth_age, c_black)

# (d)
pdd = left_panel(987, 1181, (0, 300), [0, 100, 200, 300], ["0", "100", "200", "300"])
gray_layer(pdd, d_gray, d_core)
base = np.zeros(len(d_age))
for vals, col in zip([d_cren, d_iso3, d_iso2, d_iso1], D_COL[::-1]):
    top = base + np.asarray(vals, dtype=float)
    pdd.fill_between(d_age, base, top, color=col, alpha=ALPHA, lw=0, zorder=2)
    base = top
black_line(pdd, d_age, base)

# (e)
pe = left_panel(1235, 1430, (0, 350), list(range(0, 351, 50)),
                ["", "50", "", "150", "", "250", "", "350"])
gray_layer(pe, e_gray, e_core)
black_line(pe, smooth_age, e_black)

# (f)
pf = left_panel(1500, 1858, (-38, 450), list(range(0, 451, 50)),
                ["0", "", "", "150", "", "", "300", "", "", "450"])
gray_layer(pf, f_gray, f_core)
base = np.zeros(len(f_age))
for vals, col in zip([f_6me, f_5me, f_tetra], F_COL[::-1]):
    top = base + np.asarray(vals, dtype=float)
    pf.fill_between(f_age, base, top, color=col, alpha=ALPHA, lw=0, zorder=2)
    base = top
black_line(pf, f_age, base)
# MIS bar
pf.add_patch(Rectangle((0, -38), XMAX, 38, fc="#9c9c9c", ec="none", zorder=4))
for s, e, lab, glac in zip(mis_start, mis_end, mis_label, mis_glacial):
    if not glac:
        pf.add_patch(Rectangle((s, -38), e - s, 35, fc="white", ec="none", zorder=5))
    pf.text((s + e) / 2, -19.5, lab, ha="center", va="center", zorder=6,
            fontsize=19 if (e - s) < 16 else 22,
            color="#e2e2e2" if glac else "#a8a8a8")
pf.vlines([14], -38, -1, colors="#dddddd", lw=1.5, zorder=6)
pf.spines["bottom"].set_visible(True)
pf.spines["bottom"].set_linewidth(3.6)
pf.spines["bottom"].set_color("black")
pf.spines["bottom"].set_zorder(10)
pf.spines["left"].set_zorder(10)
pf.set_xticks([0, 50, 100, 150, 200])
pf.set_xticks(np.arange(0, 241, 10), minor=True)
pf.tick_params(axis="x", which="both", bottom=True, labelbottom=True, length=9, width=2.6,
               color="black", labelsize=26, labelcolor=TXT, pad=8, direction="out")

# ---------------- box plots ----------------
BX0, BX1 = 1330, 1972
MEAN_MK = ["o", "o", "o", "o", "s", "o", "^", "D", (6, 2, 0)]
MEAN_FILL = ["black"] * 4 + ["none"] * 5
MEAN_MS = [14, 14, 14, 14, 12, 14, 13, 11, 17]


def box_panel(y0, y1, ylim, ticks, labels, med, q1, q3, lo, hi, out, mean):
    ax = fig.add_axes(rect(BX0, y0, BX1, y1))
    stats = [dict(med=med[i], q1=q1[i], q3=q3[i], whislo=lo[i], whishi=hi[i], fliers=out[i])
             for i in range(len(groups))]
    bp = ax.bxp(stats, positions=list(range(len(groups))), widths=0.72, capwidths=0.2,
                patch_artist=True, showfliers=True, manage_ticks=False,
                boxprops=dict(linewidth=2.2, edgecolor="#333333"),
                medianprops=dict(color="#333333", linewidth=4),
                whiskerprops=dict(color="#333333", linewidth=2.2),
                capprops=dict(color="#333333", linewidth=2.2),
                flierprops=dict(marker="o", markersize=7, markerfacecolor="none",
                                markeredgecolor="#5a5a5a", markeredgewidth=1.8))
    for patch, col in zip(bp["boxes"], BOX_COL):
        patch.set_facecolor(col)
    for i in range(len(groups)):
        ax.plot([i], [mean[i]], marker=MEAN_MK[i], ms=MEAN_MS[i], mfc=MEAN_FILL[i], mec="black",
                mew=3.2, ls="none", zorder=6)
    ax.set_xlim(-0.62, 8.6)
    ax.set_ylim(*ylim)
    ax.patch.set_visible(False)
    for s in ("top", "left", "bottom"):
        ax.spines[s].set_visible(False)
    ax.spines["right"].set_visible(True)
    ax.spines["right"].set_linewidth(3.6)
    ax.spines["right"].set_color("black")
    ax.yaxis.tick_right()
    ax.set_yticks(ticks)
    ax.set_yticklabels(labels)
    ax.set_xticks([])
    ax.tick_params(axis="y", right=True, left=False, labelright=True, labelleft=False, length=8,
                   width=3, color="black", labelsize=27, labelcolor=TXT, pad=3, direction="out")
    return ax


bc = box_panel(701, 892, (0, 800), [0, 200, 400, 600, 800], ["0", "200", "400", "600", "800"],
               c_med, c_q1, c_q3, c_lo, c_hi, c_out, c_mean)
bd = box_panel(987, 1181, (0, 300), [0, 100, 200, 300], ["0", "100", "200", "300"],
               d_med, d_q1, d_q3, d_lo, d_hi, d_out, d_mean)
be = box_panel(1235, 1430, (0, 350), list(range(0, 351, 50)),
               ["", "50", "", "150", "", "250", "", "350"],
               e_med, e_q1, e_q3, e_lo, e_hi, e_out, e_mean)
bf = box_panel(1500, 1831, (0, 450), list(range(0, 451, 50)),
               ["0", "", "", "150", "", "", "300", "", "", "450"],
               f_med, f_q1, f_q3, f_lo, f_hi, f_out, f_mean)

# ---------------- overlay for annotations ----------------
ov = fig.add_axes([0, 0, 1, 1])
ov.set_xlim(0, W)
ov.set_ylim(H, 0)
ov.axis("off")
ov.patch.set_visible(False)

xmid = (LX0 + LX1) / 2
ov.text(xmid, 37, "Age (ka)", ha="center", va="center", fontsize=32)
ov.text(xmid, 1941, "Age (ka)", ha="center", va="center", fontsize=32)

# header labels on the right
ov.text(1321, 151, "Diatom communities", ha="left", va="center", fontsize=25)
ov.text(1321, 208, "Lithofacies", ha="left", va="center", fontsize=25)
ov.text(1324, 263, "Seismic stages", ha="left", va="center", fontsize=25)
for i, (nm, col) in enumerate(zip(litho_names, LEG_COL)):
    yy = 181 + 34.5 * i
    ov.plot([1665], [yy], "o", ms=12, color=col, mec="none")
    ov.text(1692, yy, nm, ha="left", va="center", fontsize=19)

# panel tags
for tag, x, y in [("(a)", 199, 291), ("(b)", 199, 445), ("(c)", 199, 688), ("(d)", 199, 971),
                  ("(e)", 199, 1219), ("(f)", 205, 1483)]:
    ov.text(x, y, tag, ha="left", va="center", fontsize=27)

# y-axis titles
UNIT = "(\u00b5g g$^{-1}$ C$_{\\mathrm{org}}$)"
ov.text(37, 373, "Lake Level", rotation=90, ha="center", va="center", fontsize=25)
ov.text(99, 540, "%C$_{\\mathrm{org}}$", rotation=90, ha="center", va="center", fontsize=25)
ov.text(40, 771, "Crenarchaeol", rotation=90, ha="center", va="center", fontsize=25)
ov.text(90, 790, UNIT, rotation=90, ha="center", va="center", fontsize=21)
ov.text(40, 1065, "Minor isoGDGTs", rotation=90, ha="center", va="center", fontsize=25)
ov.text(90, 1068, UNIT, rotation=90, ha="center", va="center", fontsize=21)
ov.text(40, 1331, "isoGDGT\u22120", rotation=90, ha="center", va="center", fontsize=25)
ov.text(90, 1340, UNIT, rotation=90, ha="center", va="center", fontsize=21)
ov.text(40, 1639, "brGDGTs", rotation=90, ha="center", va="center", fontsize=25)
ov.text(92, 1645, UNIT, rotation=90, ha="center", va="center", fontsize=21)

# stacked-area legends
for i, (nm, col) in enumerate(zip(d_names, D_COL)):
    y0 = 941 + 50 * i
    ov.add_patch(Rectangle((1103, y0), 44, 44, fc=col, alpha=ALPHA, ec="none"))
    ov.text(1157, y0 + 22, nm, ha="left", va="center", fontsize=22)
for i, (nm, col) in enumerate(zip(f_names, F_COL)):
    y0 = 1485 + 47 * i
    ov.add_patch(Rectangle((1011, y0), 44, 43, fc=col, alpha=ALPHA, ec="none"))
    ov.text(1065, y0 + 22, nm, ha="left", va="center", fontsize=22)

# box-plot annotations (x in group positions, y in pixels)
trans = mtransforms.blended_transform_factory(bc.transData, ov.transData)
for i, g in enumerate(groups):
    if i < 4:
        ov.text(i, 677, g, rotation=90, ha="center", va="bottom", fontsize=27, transform=trans)
    else:
        ov.text(i, 672, g, ha="center", va="baseline", fontsize=28, family=SERIF, transform=trans)
for sig, yb in [(c_sig, 952), (d_sig, 1219), (e_sig, 1480), (f_sig, 1879)]:
    for i, s in enumerate(sig):
        ov.text(i, yb, s, rotation=90, ha="center", va="bottom", fontsize=23, transform=trans)
for i, n in enumerate(group_n):
    ov.text(i, 1940, str(n), ha="center", va="center", fontsize=23, color="#9a9a9a", transform=trans)
ov.text(1272, 1938, "n =", ha="center", va="center", fontsize=22, color="#9a9a9a", style="italic")

fig.savefig("out.png", dpi=100, facecolor="white")
